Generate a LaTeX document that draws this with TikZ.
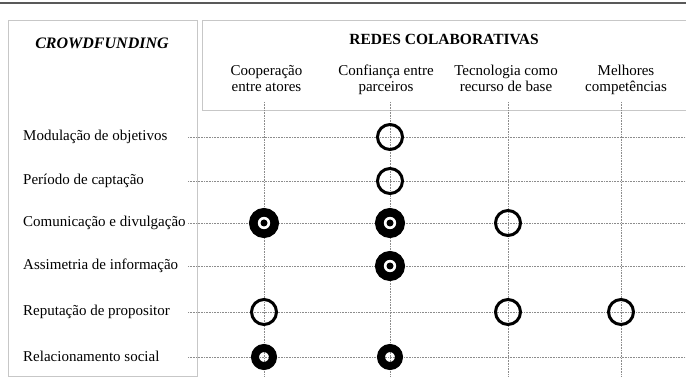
\documentclass[tikz,border=0pt]{standalone}
\usepackage{fontspec}
\setmainfont{Liberation Serif}
\usepackage{tikz}

\begin{document}
\begin{tikzpicture}[x=1pt,y=-1pt,
		frame/.style={draw=black!22, line width=0.8pt},
		gridline/.style={draw=black!45, densely dotted, line width=0.6pt},
		rowlabel/.style={anchor=base west, inner sep=0pt, font=\fontsize{15}{16}\selectfont},
		colhead/.style={anchor=base, align=center, inner sep=0pt, font=\fontsize{15}{16}\selectfont},
		opencirc/.style={circle, draw, line width=3pt, minimum size=25pt, inner sep=0pt},
		target/.style={circle, draw, fill=white, line width=8.6pt, minimum size=21.4pt, inner sep=0pt,
			path picture={\fill[black] (path picture bounding box.center) circle (3.5pt);}},
		thickring/.style={circle, draw, line width=8pt, minimum size=18pt, inner sep=0pt}]
		\useasboundingbox (0,0) rectangle (686,390);
		\draw[black!65, line width=1.5pt] (0,3) -- (686,3);
		
		% frames
		\draw[frame] (8,20) rectangle (197,376);
		\draw[frame] (690,20) -- (202,20) -- (202,110) -- (690,110);
		\node[anchor=base, inner sep=0pt, font=\fontsize{16}{18}\selectfont\bfseries\itshape] (crowd) at (102,49) {CROWDFUNDING};
		\node[anchor=base, inner sep=0pt, font=\fontsize{15.5}{18}\selectfont\bfseries] (redes) at (444,45) {REDES COLABORATIVAS};
		
		% rows
		\foreach \y/\txt [count=\i] in {137/Modulação de objetivos, 181/Período de captação, 223/Comunicação e divulgação,
			266/Assimetria de informação, 312/Reputação de propositor, 357/Relacionamento social}{
			\node[rowlabel] (r\i) at (23,\y+4) {\txt};
			\coordinate (h\i) at (188,\y);
			\coordinate (e\i) at (686,\y);
			\draw[gridline] (h\i) -- (e\i);
		}
		
		% columns
		\foreach \x/\hx/\txt [count=\j] in {264/266.5/Cooperação\\entre atores, 390/386/Confiança entre\\parceiros,
			508/506/Tecnologia como\\recurso de base, 621/626/Melhores\\competências}{
			\node[colhead] (c\j) at (\hx,92) {\txt};
			\coordinate (t\j) at (\x,102);
			\coordinate (b\j) at (\x,376);
			\draw[gridline] (t\j) -- (b\j);
		}
		
		\node[opencirc] (m2) at (t2 |- h1) {};
		\node[opencirc] (p2) at (t2 |- h2) {};
		\node[target] (d1) at (t1 |- h3) {};
		\node[target] (d2) at (t2 |- h3) {};
		\node[opencirc] (d3) at (t3 |- h3) {};
		\node[target] (a2) at (t2 |- h4) {};
		\node[opencirc] (q1) at (t1 |- h5) {};
		\node[opencirc] (q3) at (t3 |- h5) {};
		\node[opencirc] (q4) at (t4 |- h5) {};
		\node[thickring] (s1) at (t1 |- h6) {};
		\node[thickring] (s2) at (t2 |- h6) {};
		
	\end{tikzpicture}
\end{document}
